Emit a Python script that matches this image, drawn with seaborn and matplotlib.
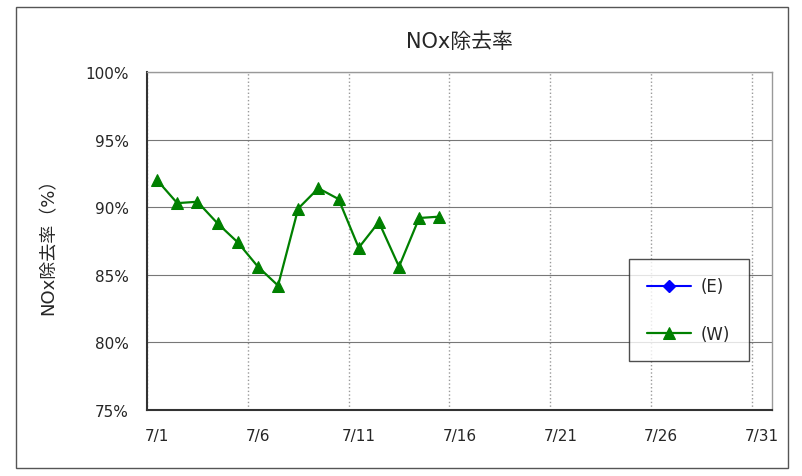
import numpy as np
import pandas as pd
import matplotlib
matplotlib.use('Agg')
import matplotlib.pyplot as plt
import seaborn as sns
from matplotlib.patches import Rectangle

# datos (dia de julio, % de remocion)
dias_w = [1, 2, 3, 4, 5, 6, 7, 8, 9, 10, 11, 12, 13, 14, 15]
valores_w = [92.0, 90.3, 90.4, 88.8, 87.4, 85.6, 84.2, 89.9, 91.4, 90.6, 87.0, 88.9, 85.6, 89.2, 89.3]
dias_e = []
valores_e = []
etiquetas_x = ['7/1', '7/6', '7/11', '7/16', '7/21', '7/26', '7/31']
dias_etiqueta = [1, 6, 11, 16, 21, 26, 31]
ticks_y = [75, 80, 85, 90, 95, 100]

df_w = pd.DataFrame({'dia': dias_w, 'valor': valores_w})
# Excel centra cada punto en su dia
df_w['x'] = df_w['dia'] - 0.5

sns.set_style("white")
plt.rcParams['font.family'] = ['DejaVu Sans', 'Noto Sans CJK JP']

fig = plt.figure(figsize=(8.02, 4.77), dpi=100)
ax = fig.add_axes([0.1833, 0.1384, 0.7793, 0.7086])

# marco exterior
fig.patches.append(Rectangle((0.02, 0.017), 0.963, 0.966, transform=fig.transFigure,
                             fill=False, edgecolor='#555555', linewidth=1.0))

ax.plot([d - 0.5 for d in dias_e], valores_e, color='#0000FF', marker='D',
        markersize=6, linewidth=1.5, label='(E)')
sns.lineplot(data=df_w, x='x', y='valor', color='#008000', marker='^', markersize=9,
             markeredgecolor='#008000', linewidth=1.6, label='(W)', ax=ax)

ax.set_xlim(0, 31)
ax.set_ylim(75, 100)

# lineas de grilla en los limites de dia, etiquetas al centro
ax.set_xticks([d - 1 for d in dias_etiqueta])
ax.set_xticklabels([])
ax.set_xticks([d - 0.5 for d in dias_etiqueta], minor=True)
ax.set_xticklabels(etiquetas_x, minor=True)
ax.tick_params(axis='x', which='both', length=0, pad=13, labelsize=11)
ax.set_yticks(ticks_y)
ax.set_yticklabels([f'{v}%' for v in ticks_y])
ax.tick_params(axis='y', length=4, width=1, direction='out', pad=9, labelsize=11)

ax.grid(axis='x', which='major', color='#999999', linestyle=':', linewidth=1.0)
ax.grid(axis='y', which='major', color='#777777', linestyle='-', linewidth=0.8)

for s in ['left', 'bottom']:
    ax.spines[s].set_color('#333333')
    ax.spines[s].set_linewidth(1.5)
for s in ['top', 'right']:
    ax.spines[s].set_color('#999999')
    ax.spines[s].set_linewidth(1.0)

ax.set_title('NOx除去率', fontsize=15, pad=18)
ax.set_xlabel('')
ax.set_ylabel('NOx除去率（%）', fontsize=13, labelpad=20)

leg = ax.legend(loc='lower left', bbox_to_anchor=(0.771, 0.145, 0.192, 0.296), mode='expand',
                borderaxespad=0, fontsize=12, frameon=True, fancybox=False, labelspacing=1.75,
                borderpad=1.1, handlelength=2.6, handletextpad=0.6)
leg.get_frame().set_edgecolor('#222222')
leg.get_frame().set_linewidth(1.0)

fig.savefig('out.png', dpi=100)
